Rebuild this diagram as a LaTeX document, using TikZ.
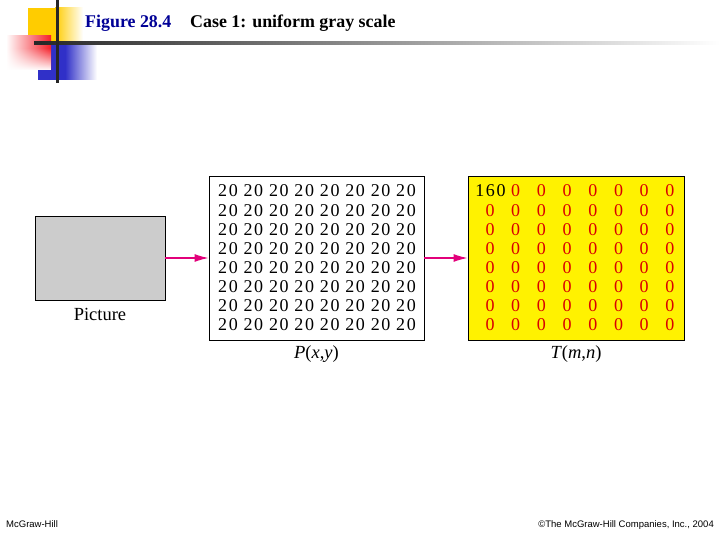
\documentclass[tikz,border=0pt]{standalone}
\usepackage{fontspec}
\usepackage{xcolor}
\usetikzlibrary{arrows.meta,fadings}
\setmainfont{Liberation Serif}
\setsansfont{Liberation Sans}
\newfontfamily\cellfont[LetterSpace=9]{Liberation Serif}
\definecolor{arrowpink}{RGB}{226,0,122}
\definecolor{titleblue}{RGB}{0,0,150}
\definecolor{logoblue}{RGB}{48,48,200}
\definecolor{logored}{RGB}{245,30,40}
\definecolor{logoyellow}{RGB}{255,204,0}
\definecolor{boxgray}{RGB}{204,204,204}
\begin{document}
\begin{tikzpicture}[x=1pt,y=-1pt]
        \tikzset{framebox/.style={draw,line width=0.9pt,inner sep=0pt},
            cell/.style={font=\cellfont\fontsize{18}{18}\selectfont,inner sep=0pt},
            zerocell/.style={cell,text=red!85!black},
            caption/.style={font=\fontsize{18.5}{18.5}\selectfont,inner sep=0pt},
            titletext/.style={anchor=base west,inner sep=0pt,font=\bfseries\fontsize{17.9}{17.9}\selectfont},
            footer/.style={font=\sffamily\fontsize{9.5}{9.5}\selectfont,inner sep=0pt},
            link/.style={draw=arrowpink,line width=1.2pt,-{Latex[length=14pt,width=8pt]}}}
        \useasboundingbox (0,0) rectangle (720,540);
        % logo
        \fill[logoyellow] (28,8) rectangle (55,43);
        \shade[left color=logoyellow,right color=white,draw=none] (55,8) rectangle (83,43);
        \fill[logoblue] (38,44) rectangle (65,80);
        \shade[left color=logoblue,right color=white,draw=none] (65,44) rectangle (97,80);
        \shade[left color=white,right color=logored,draw=none] (6,36) rectangle (51,70);
        \fill[white,path fading=north] (6,48) rectangle (51,70);
        \shade[left color=black!85,right color=white,draw=none] (34,42) rectangle (720,45);
        \fill[black!85] (55.5,0) rectangle (58.5,83);
        % title
        \node[titletext,text=titleblue] (figtitle) at (85,28) {Figure 28.4};
        \node[titletext] (casetitle) at (190,28) {Case 1: uniform gray scale};
        % boxes
        \node[framebox,fill=boxgray,minimum width=130pt,minimum height=84pt] (picture) at (100,258) {};
        \node[framebox,fill=white,minimum width=215pt,minimum height=164pt] (pbox) at (316.5,258) {};
        \node[framebox,fill=yellow,minimum width=216pt,minimum height=164pt] (tbox) at (576,258) {};
        \draw[link] (picture.east) -- (pbox.west);
        \draw[link] (pbox.east) -- (tbox.west);
        % cells
        \foreach \row in {0,...,7}
            \foreach \col in {0,...,7} {
                \node[cell] (p\row\col) at (228+25.43*\col,191+19.14*\row) {20};
                \ifnum\row\col=0
                    \node[cell] (t\row\col) at (490.5+25.4*\col,191+19.14*\row) {160};
                \else
                    \node[zerocell] (t\row\col) at (490+25.7*\col,191+19.14*\row) {0};
                \fi
            }
        % captions
        \node[caption] (picturelabel) at (100,314) {Picture};
        \node[caption] (plabel) at (316.5,354) {\textit{P}(\textit{x},\textit{y})};
        \node[caption] (tlabel) at (576,354) {\textit{T}(\textit{m},\textit{n})};
        \node[footer,anchor=base west] (leftfoot) at (6,527) {McGraw-Hill};
        \node[footer,anchor=base east] (rightfoot) at (714,527) {©The McGraw-Hill Companies, Inc., 2004};
    \end{tikzpicture}
\end{document}
